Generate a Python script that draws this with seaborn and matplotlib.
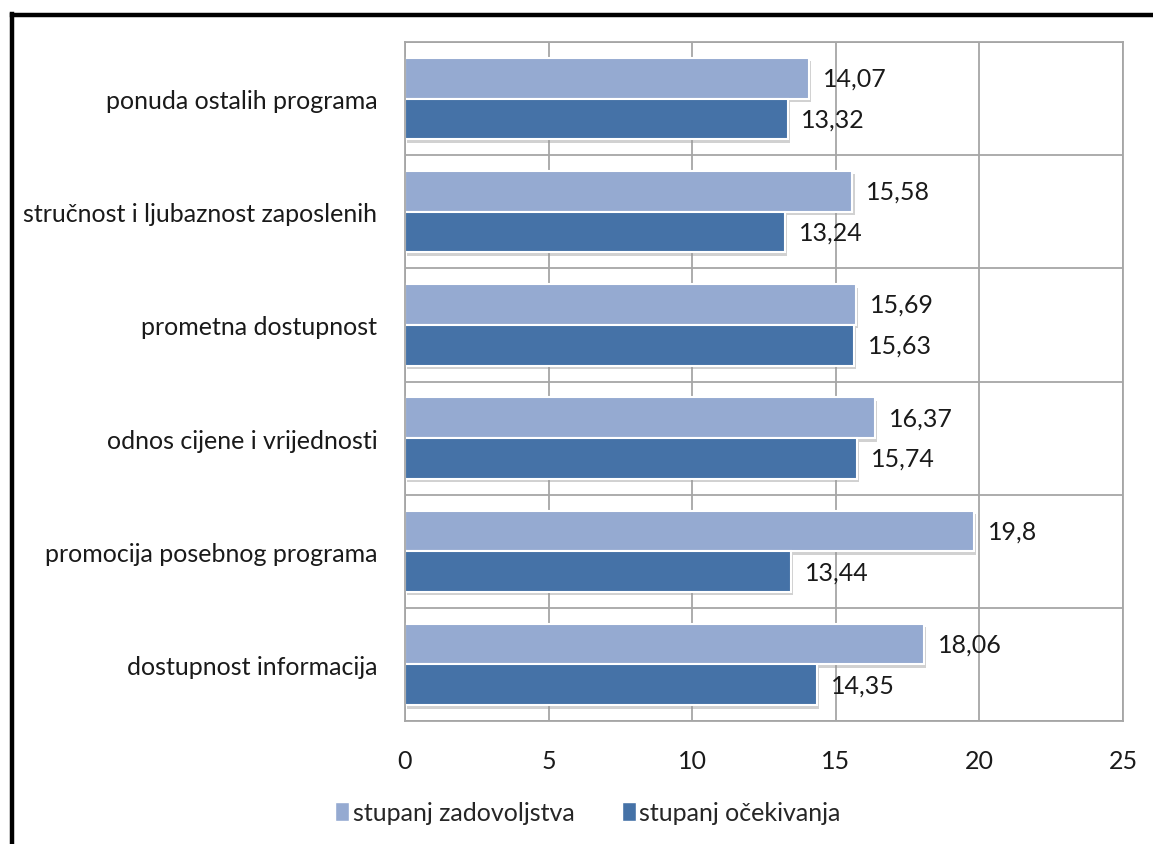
import matplotlib
matplotlib.use("Agg")
import matplotlib.pyplot as plt
import matplotlib.patheffects as pe
from matplotlib.lines import Line2D
from matplotlib.patches import Patch
import seaborn as sns
import pandas as pd

categories = ["ponuda ostalih programa", "stručnost i ljubaznost zaposlenih",
              "prometna dostupnost", "odnos cijene i vrijednosti",
              "promocija posebnog programa", "dostupnost informacija"]
zadovoljstvo = [14.07, 15.58, 15.69, 16.37, 19.8, 18.06]
ocekivanje = [13.32, 13.24, 15.63, 15.74, 13.44, 14.35]
series = ["stupanj zadovoljstva", "stupanj očekivanja"]
colors = ["#95AAD1", "#4572A7"]
xticks = [0, 5, 10, 15, 20, 25]

df = pd.DataFrame({
    "kategorija": categories * 2,
    "vrijednost": zadovoljstvo + ocekivanje,
    "serija": [series[0]] * len(categories) + [series[1]] * len(categories),
})

sns.set_theme(style="white")
plt.rcParams["font.family"] = ["Lato", "DejaVu Sans"]

FS = 18
fig = plt.figure(figsize=(11.53, 8.45), dpi=100)
ax = fig.add_axes([405 / 1153, 1 - 722 / 845, (1123 - 405) / 1153, (722 - 43) / 845])

sns.barplot(data=df, y="kategorija", x="vrijednost", hue="serija", order=categories,
            hue_order=series, palette=colors, orient="h", width=0.72, ax=ax,
            edgecolor="white", linewidth=1.5, legend=False, saturation=1)

for p in ax.patches:
    p.set_path_effects([pe.SimplePatchShadow(offset=(1.5, -2.5), shadow_rgbFace="#999999", alpha=0.45),
                        pe.Normal()])

for cont in ax.containers:
    labels = [f"{v:g}".replace(".", ",") for v in cont.datavalues]
    ax.bar_label(cont, labels=labels, padding=10, fontsize=FS, color="#1a1a1a")

ax.set_xlim(0, 25)
ax.set_ylim(len(categories) - 0.5, -0.5)
ax.set_xticks(xticks)
ax.set_xticklabels([str(t) for t in xticks], fontsize=FS, color="#1a1a1a")
ax.set_yticks(range(len(categories)))
ax.set_yticklabels(categories, fontsize=FS, color="#1a1a1a")
ax.set_yticks([i + 0.5 for i in range(-1, len(categories))], minor=True)
ax.tick_params(axis="x", which="both", length=0, pad=20)
ax.tick_params(axis="y", which="both", length=0, pad=20)
ax.grid(axis="x", which="major", color="#A6A6A6", linewidth=1.3)
ax.grid(axis="y", which="minor", color="#A6A6A6", linewidth=1.3)
ax.grid(axis="y", which="major", visible=False)
ax.set_axisbelow(True)
ax.set_xlabel("")
ax.set_ylabel("")
for s in ax.spines.values():
    s.set_color("#A6A6A6")
    s.set_linewidth(1.3)

handles = [Patch(facecolor=c, edgecolor="white") for c in colors]
fig.legend(handles, series, loc="center", bbox_to_anchor=(588 / 1153, 1 - 814 / 845),
           ncol=2, frameon=False, fontsize=18, handlelength=0.55, handleheight=0.8,
           handletextpad=0.15, columnspacing=1.9)

# outer frame (left and top edges)
fig.add_artist(Line2D([11.5 / 1153, 11.5 / 1153], [0, 1 - 15 / 845], transform=fig.transFigure,
                      color="black", linewidth=3.2, solid_capstyle="projecting"))
fig.add_artist(Line2D([11.5 / 1153, 1], [1 - 15.5 / 845, 1 - 15.5 / 845], transform=fig.transFigure,
                      color="black", linewidth=3.2, solid_capstyle="projecting"))

fig.savefig("out.png", dpi=100, facecolor="white")
